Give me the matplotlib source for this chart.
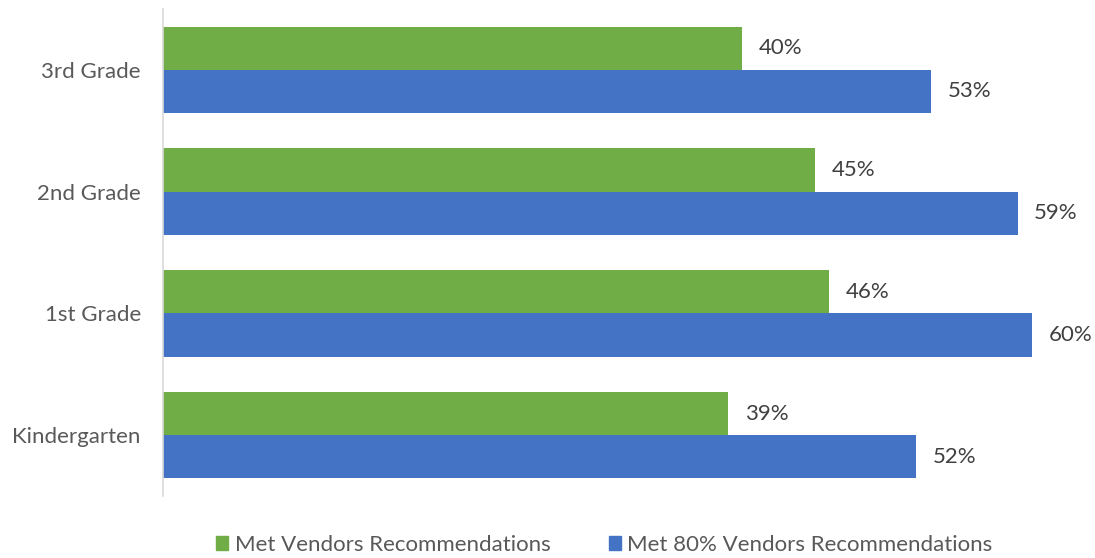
import matplotlib.pyplot as plt
from matplotlib.patches import Patch

plt.rcParams['font.family'] = ['Lato', 'DejaVu Sans']

grades = ['Kindergarten', '1st Grade', '2nd Grade', '3rd Grade']
met_vendors = [39, 46, 45, 40]
met_80 = [52, 60, 59, 53]

green = '#70AD47'
blue = '#4472C4'
h = 0.355

fig = plt.figure(figsize=(10.95, 5.58), dpi=100)
ax = fig.add_axes([163 / 1095, 62 / 558, 927 / 1095, 487 / 558])

ypos = list(range(len(grades)))
ax.barh([y + h / 2 for y in ypos], met_vendors, height=h, color=green)
ax.barh([y - h / 2 for y in ypos], met_80, height=h, color=blue)

for y, v in zip(ypos, met_vendors):
    ax.annotate(f'{v}%', (v, y + h / 2), xytext=(12, 0), textcoords='offset points',
                va='center', ha='left', fontsize=16, color='#404040')
for y, v in zip(ypos, met_80):
    ax.annotate(f'{v}%', (v, y - h / 2), xytext=(12, 0), textcoords='offset points',
                va='center', ha='left', fontsize=16, color='#404040')

ax.set_xlim(0, 64)
ax.set_ylim(-0.5, 3.5)
ax.set_yticks(ypos)
ax.set_yticklabels(grades, fontsize=16, color='#595959')
ax.tick_params(axis='y', length=0, pad=16)
ax.set_xticks([])
for s in ['top', 'right', 'bottom']:
    ax.spines[s].set_visible(False)
ax.spines['left'].set_color('#d9d9d9')
ax.spines['left'].set_linewidth(1.2)

handles = [Patch(color=green, label='Met Vendors Recommendations'),
           Patch(color=blue, label='Met 80% Vendors Recommendations')]
fig.legend(handles=handles, loc='lower center', bbox_to_anchor=(0.552, -0.03), ncol=2,
           frameon=False, fontsize=16, handlelength=0.55, handleheight=0.55,
           handletextpad=0.3, columnspacing=2.6, labelcolor='#595959')

fig.savefig('out.png', dpi=100)
